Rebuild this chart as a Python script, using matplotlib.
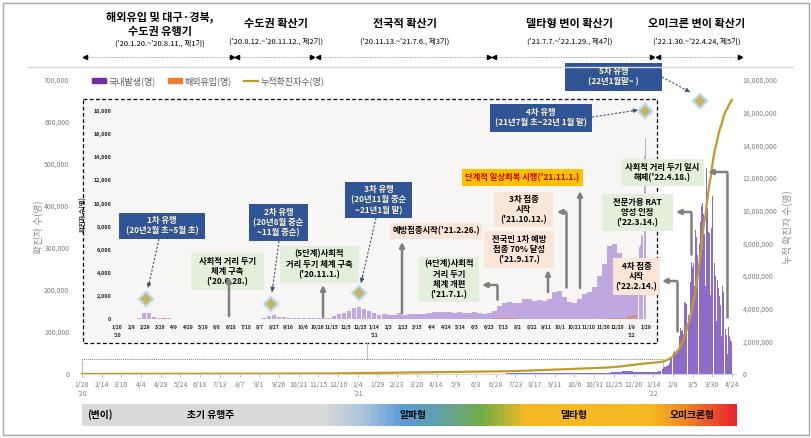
import numpy as np
import pandas as pd
import matplotlib
matplotlib.use("Agg")
import matplotlib.pyplot as plt
from matplotlib.patches import Rectangle, Patch
from matplotlib.lines import Line2D
from matplotlib.colors import LinearSegmentedColormap

KR = ["Noto Sans CJK KR", "DejaVu Sans"]
NUM = ["Liberation Sans Narrow", "Noto Sans CJK KR", "DejaVu Sans"]
plt.rcParams["font.family"] = KR

start = pd.Timestamp("2020-01-20")

# average daily cases per week, weeks from Mon 2020-01-20 to Mon 2022-01-10
domestic_weekly = [
    0.3, 1.5, 2, 0.5, 60, 530, 480, 170, 80, 70, 55, 30, 15, 5, 4, 5, 20, 15, 30, 40,
    40, 35, 30, 40, 25, 15, 15, 12, 20, 60, 240, 330, 200, 140, 110, 85, 60, 55, 65, 75,
    80, 95, 110, 220, 420, 500, 650, 950, 1010, 850,
    650, 500, 380, 430, 350, 370, 500, 380, 400, 430, 430, 420, 500, 600, 620, 630, 580, 560, 600, 560,
    530, 580, 520, 460, 520, 650, 1150, 1350, 1500, 1400, 1400, 1700, 1750, 1600, 1650, 1600, 1750, 2300, 2400, 1900,
    1500, 1400, 1700, 2200, 2350, 2800, 3700, 4800, 6300, 6500, 5700, 4300, 3600, 3800,
]
imported_weekly = [
    1, 1, 1, 0, 1, 2, 5, 10, 20, 45, 35, 20, 10, 6, 4, 3, 3, 4, 5, 6,
    8, 12, 15, 18, 20, 22, 30, 15, 10, 10, 12, 10, 8, 8, 10, 10, 12, 12, 12, 15,
    12, 15, 12, 12, 15, 15, 20, 25, 30, 30,
    30, 25, 20, 20, 20, 15, 20, 20, 20, 20, 20, 20, 20, 25, 25, 25, 30, 30, 25, 20,
    25, 25, 25, 30, 40, 45, 50, 55, 60, 45, 40, 40, 40, 40, 40, 30, 30, 25, 25, 25,
    20, 20, 20, 20, 20, 25, 25, 40, 60, 70, 70, 120, 250, 350,
]
# daily domestic cases 2022-01-17 ... 2022-04-24
domestic_daily = [
    3900, 3700, 5400, 6200, 6400, 6600, 7300,
    7200, 8200, 12600, 14100, 15700, 17100, 16700,
    17900, 19900, 20500, 22500, 27000, 36000, 38300,
    35000, 36400, 49200, 53700, 53500, 54600, 56100,
    54300, 56800, 90000, 92700, 109400, 101800, 104500,
    95000, 99200, 171000, 169600, 165500, 165900, 163200,
    139300, 131400, 218900, 198500, 266500, 254000, 264300,
    210400, 202400, 342100, 327200, 282700, 383400, 349900,
    309500, 362000, 400400, 621000, 406700, 381200, 334400,
    208900, 353700, 490600, 395300, 339200, 335300, 317900,
    187000, 347300, 424400, 320500, 280000, 263900, 234100,
    127000, 266000, 224700, 205200, 185400, 164400, 150200,
    90800, 210600, 195300, 148300, 125700, 107800, 92900,
    47600, 118400, 111200, 90800, 81000, 75400, 64700,
]
# average daily imported cases per week over the same span
imported_daily_weekly = [400, 450, 450, 550, 500, 450, 400, 350, 300, 200, 150, 120, 100, 60]

wave_dates = ["2020-03-01", "2020-08-23", "2020-12-23", "2022-01-27"]
wave_marks = [1750, 1300, 2250, 18000]
omicron_date = "2022-03-14"
omicron_mark = 650000

period_titles = ["해외유입 및 대구·경북,\n수도권 유행기", "수도권 확산기", "전국적 확산기",
                 "델타형 변이 확산기", "오미크론 변이 확산기"]
period_ranges = ["('20.1.20.~'20.8.11., 제1기)", "('20.8.12.~'20.11.12., 제2기)",
                 "('20.11.13.~'21.7.6., 제3기)", "('21.7.7.~'22.1.29., 제4기)",
                 "('22.1.30.~'22.4.24, 제5기)"]
variant_labels = ["(변이)", "초기 유행주", "알파형", "델타형", "오미크론형"]

PURPLE = "#8f6bc8"
PURPLE_IN = "#bea8df"
ORANGE = "#ed7d31"
GOLD = "#c49a22"
GRAY = "#7f7f7f"

W, H = 812, 438
fig = plt.figure(figsize=(W / 100, H / 100), dpi=100, facecolor="white")


def fx(px):
    return px / W


def fy(py):
    return 1 - py / H


def date_labels(days):
    out, seen = [], set()
    for d in days:
        t = start + pd.Timedelta(days=int(d))
        s = f"{t.month}/{t.day}"
        if t.year not in seen:
            s += f"\n'{t.year % 100}"
            seen.add(t.year)
        out.append(s)
    return out


n_wk = len(domestic_weekly)
wk_x = np.arange(n_wk) * 7 + 3
d0 = n_wk * 7
day_x = d0 + np.arange(len(domestic_daily))
wk2_x = d0 + np.arange(len(imported_daily_weekly)) * 7 + 3

daily_total = np.concatenate([
    np.repeat(np.array(domestic_weekly) + np.array(imported_weekly), 7),
    np.array(domestic_daily) + np.repeat(imported_daily_weekly, 7),
])
cumulative = np.cumsum(daily_total)
last_day = len(daily_total) - 1

# ---------------- main axes ----------------
px_day = (732 - 82) / last_day
xl = (-2, 830)
left = 82 + xl[0] * px_day
right = 82 + xl[1] * px_day
ax = fig.add_axes([fx(left), fy(374), fx(right - left), (374 - 80) / H], zorder=1)
ax.patch.set_visible(False)
ax.bar(wk_x, domestic_weekly, width=7, color=PURPLE, linewidth=0)
ax.bar(day_x, domestic_daily, width=0.95, color=PURPLE, linewidth=0)
ax.bar(wk_x, imported_weekly, width=7, color=ORANGE, linewidth=0)
ax.bar(wk2_x, imported_daily_weekly, width=7, color=ORANGE, linewidth=0, alpha=0.6)
ax.plot([(pd.Timestamp(omicron_date) - start).days], [omicron_mark], "D", ms=7.5,
        mfc="#c8b45c", mec="#bdd7ee", mew=1.6, clip_on=False, zorder=5)
ax.add_patch(Rectangle((0, 0), 738, 36000, fill=False, ls=(0, (1, 1)), lw=0.7, ec=GRAY))
ax.set_xlim(*xl)
ax.set_ylim(0, 700000)
ax.set_yticks(np.arange(0, 700001, 100000))
ax.set_yticklabels([f"{v:,}" for v in range(0, 700001, 100000)], family=NUM, fontsize=5.0, color=GRAY)
main_ticks = np.arange(0, last_day + 1, 25)
ax.set_xticks(main_ticks)
ax.set_xticklabels(date_labels(main_ticks), family=NUM, fontsize=5.0, color=GRAY, linespacing=1.25)
ax.tick_params(axis="y", length=0, pad=8)
ax.tick_params(axis="x", length=2, color="#bfbfbf", pad=3)
for s in ["top", "left", "right"]:
    ax.spines[s].set_visible(False)
ax.spines["bottom"].set_color("#d0d0d0")
ax.spines["bottom"].set_linewidth(0.6)
ax.set_ylabel("확진자 수(명)", fontsize=7, color="#8c8c8c", labelpad=0)

ax2 = ax.twinx()
ax2.set_zorder(2)
ax2.plot(np.arange(last_day + 1), cumulative, color=GOLD, lw=1.6)
ax2.set_ylim(0, 18000000)
ax2.set_yticks(np.arange(0, 18000001, 2000000))
ax2.set_yticklabels([f"{v:,}" for v in range(0, 18000001, 2000000)], family=NUM, fontsize=5.0, color=GRAY)
ax2.tick_params(axis="y", length=0, pad=5)
for s in ax2.spines.values():
    s.set_visible(False)
ax2.set_ylabel("누적 확진자 수(명)", fontsize=7, color="#8c8c8c", labelpad=3)

handles = [Patch(color="#7030a0"), Patch(color=ORANGE), Line2D([], [], color=GOLD, lw=1.6)]
fig.legend(handles, ["국내발생(명)", "해외유입(명)", "누적확진자수(명)"], loc="center left",
           bbox_to_anchor=(fx(84), fy(81)), ncol=3, frameon=False, fontsize=6.5,
           labelcolor="#595959", handlelength=1.5, handleheight=0.55, handletextpad=0.3,
           columnspacing=1.4)

# ---------------- inset ----------------
bg = fig.add_axes([0, 0, 1, 1], zorder=3)
bg.set_xlim(0, W)
bg.set_ylim(H, 0)
bg.axis("off")
bg.add_patch(Rectangle((83, 99), 574, 244, fc="#f7f6f5", ec="black", ls=(0, (3, 2)), lw=0.9))
bg.plot([367, 367], [343, 359], color="#bfbfbf", lw=0.8)

ix0, ix1, iday = 117, 646, 740
ipx = (ix1 - ix0) / iday
ixl = (-4, 744)
il = ix0 + ixl[0] * ipx
ir = ix0 + ixl[1] * ipx
ins = fig.add_axes([fx(il), fy(319), fx(ir - il), (319 - 111) / H], zorder=4)
ins.patch.set_visible(False)
n_in = iday - d0 + 1
ins.bar(wk_x, domestic_weekly, width=6, color=PURPLE_IN, linewidth=0)
ins.bar(day_x[:n_in], domestic_daily[:n_in], width=0.9, color=PURPLE_IN, linewidth=0)
ins.bar(wk_x, imported_weekly, width=6, color="#e8836a", linewidth=0, alpha=0.8)
ins.plot([(pd.Timestamp(d) - start).days for d in wave_dates], wave_marks, "D", ms=7.5,
         mfc="#c8b45c", mec="#bdd7ee", mew=1.6, clip_on=False, zorder=5, ls="none")
ins.set_xlim(*ixl)
ins.set_ylim(0, 18000)
ins.set_yticks(np.arange(0, 18001, 2000))
ins.set_yticklabels([f"{v:,}" for v in range(0, 18001, 2000)], family=NUM, fontsize=3.9,
                    fontweight="bold", color="#262626")
in_ticks = np.arange(0, iday + 1, 20)
ins.set_xticks(in_ticks)
ins.set_xticklabels(date_labels(in_ticks), family=NUM, fontsize=3.6, fontweight="bold",
                    color="#262626", linespacing=1.9)
ins.tick_params(length=0, pad=2)
ins.tick_params(axis="x", pad=4)
for s in ins.spines.values():
    s.set_visible(False)
ins.set_ylabel("확진자 수(명)", fontsize=4.5, fontweight="bold", color="#262626", labelpad=5)

# ---------------- annotations (pixel coords) ----------------
ov = fig.add_axes([0, 0, 1, 1], zorder=5)
ov.set_xlim(0, W)
ov.set_ylim(H, 0)
ov.axis("off")

ov.add_patch(Rectangle((3, 3), 806, 432, fill=False, ec="#a6a6a6", lw=1))
ov.plot([28, 793], [67, 67], color="#d9d9d9", lw=1)

title_x = [160, 276, 405, 570, 697]
for i, (t, r) in enumerate(zip(period_titles, period_ranges)):
    ty = 24.5 if i == 0 else 24
    ry = 44 if i == 0 else 42
    ov.text(title_x[i], ty, t, ha="center", va="center", fontsize=8, fontweight="bold",
            linespacing=1.15, color="black")
    ov.text(title_x[i], ry, r, ha="center", va="center", fontsize=5.4, family=NUM, color="black")
for a, b in [(85, 232), (237, 312), (318, 489), (494, 652), (658, 740)]:
    ov.plot([a, b], [57, 57], color="#8c8c8c", lw=0.6, ls=(0, (1, 1)))
    ov.plot([a], [57], marker="<", ms=3, color="black")
    ov.plot([b], [57], marker=">", ms=3, color="black")


def box(x0, y0, x1, y1, text, fc, color="black"):
    ov.add_patch(Rectangle((x0, y0), x1 - x0, y1 - y0, fc=fc, ec="none"))
    ov.text((x0 + x1) / 2, (y0 + y1) / 2, text, ha="center", va="center", fontsize=6,
            fontweight="bold", color=color, linespacing=1.2)


BLUE, GREEN, PEACH, YELLOW = "#2f5597", "#e2efda", "#fbe5d6", "#ffc000"
box(119, 213, 205, 239, "1차 유행\n(20년2월 초~5월 초)", BLUE, "#fff2cc")
box(249, 204, 308, 241, "2차 유행\n(20년8월 중순\n~11월 중순)", BLUE, "#fff2cc")
box(345, 182, 412, 218, "3차 유행\n(20년11월 중순\n~21년1월 말)", BLUE, "#fff2cc")
box(490, 104, 592, 132, "4차 유행\n(21년7월 초~22년 1월 말)", BLUE, "#fff2cc")
box(565, 63, 662, 91, "5차 유행\n(22년1월말~ )", BLUE, "#fff2cc")
box(191, 253, 264, 290, "사회적 거리 두기\n체계 구축\n('20.6.28.)", GREEN)
box(280, 246, 359, 283, "(5단계)사회적\n거리 두기 체계 구축\n('20.11.1.)", GREEN)
box(419, 257, 479, 302, "(4단계)사회적\n거리 두기\n체계 개편\n('21.7.1.)", GREEN)
box(621, 159, 704, 186, "사회적 거리 두기 일시\n해제('22.4.18.)", GREEN)
box(602, 194, 673, 231, "전문가용 RAT\n양성 인정\n('22.3.14.)", GREEN)
box(390, 223, 482, 239, "예방접종시작('21.2.26.)", PEACH)
box(484, 231, 554, 268, "전국민 1차 예방\n접종 70% 달성\n('21.9.17.)", PEACH)
box(494, 192, 553, 227, "3차 접종\n시작\n('21.10.12.)", PEACH)
box(613, 258, 660, 295, "4차 접종\n시작\n('22.2.14.)", PEACH)
box(462, 169, 583, 186, "단계적 일상회복 시행('21.11.1.)", YELLOW, "#c00000")


def gray_arrow(pts):
    xs, ys = zip(*pts)
    ov.plot(xs[:-1], ys[:-1], color=GRAY, lw=1.8, solid_capstyle="butt")
    ov.annotate("", xy=pts[-1], xytext=pts[-2],
                arrowprops=dict(arrowstyle="-|>", color=GRAY, lw=1.8, mutation_scale=7,
                                shrinkA=0, shrinkB=0))


for pts in [
    [(229, 316), (229, 277)],
    [(323, 317), (323, 285)],
    [(402, 313), (402, 242)],
    [(497, 300), (497, 285), (482, 285)],
    [(548, 292), (548, 270)],
    [(566, 288), (566, 212), (557, 212)],
    [(580, 288), (580, 191)],
    [(677, 332), (677, 281), (662, 281)],
    [(691, 255), (691, 212), (676, 212)],
    [(727, 318), (727, 172), (708, 172)],
]:
    gray_arrow(pts)


def dashed_arrow(p0, p1):
    ov.plot([p0[0], p1[0]], [p0[1], p1[1]], color="#44546a", lw=0.8, ls=(0, (2, 1.5)))
    ox = p1[0] - (p1[0] - p0[0]) * 0.12
    oy = p1[1] - (p1[1] - p0[1]) * 0.12
    ov.annotate("", xy=p1, xytext=(ox, oy),
                arrowprops=dict(arrowstyle="-|>", color="#44546a", lw=0.8, mutation_scale=6,
                                shrinkA=0, shrinkB=0))


for p0, p1 in [((159, 239), (148, 288)), ((279, 241), (272, 292)), ((376, 218), (361, 283)),
               ((592, 117), (638, 110)), ((662, 77), (690, 92))]:
    dashed_arrow(p0, p1)

# ---------------- variant bar ----------------
vax = fig.add_axes([fx(82), fy(426), fx(737 - 82), 22 / H], zorder=1)
stops = [(0.0, "#d9d9d9"), (0.37, "#d9d9d9"), (0.43, "#a9c4e0"), (0.49, "#5b9bd5"),
         (0.54, "#5f9fb0"), (0.61, "#70ad47"), (0.68, "#f5b921"), (0.87, "#f5b921"),
         (0.92, "#ef8a26"), (1.0, "#e8262b")]
cmap = LinearSegmentedColormap.from_list("variant", stops)
vax.imshow(np.linspace(0, 1, 600)[None, :], cmap=cmap, aspect="auto", extent=(82, 737, 0, 1))
vax.set_xlim(82, 737)
vax.axis("off")
for lab, x, ha in zip(variant_labels, [87, 211, 413, 574, 692], ["left", "center", "center", "center", "center"]):
    vax.text(x, 0.5, lab, ha=ha, va="center", fontsize=7, fontweight="bold", color="black")

fig.savefig("out.png", dpi=100, facecolor="white")
